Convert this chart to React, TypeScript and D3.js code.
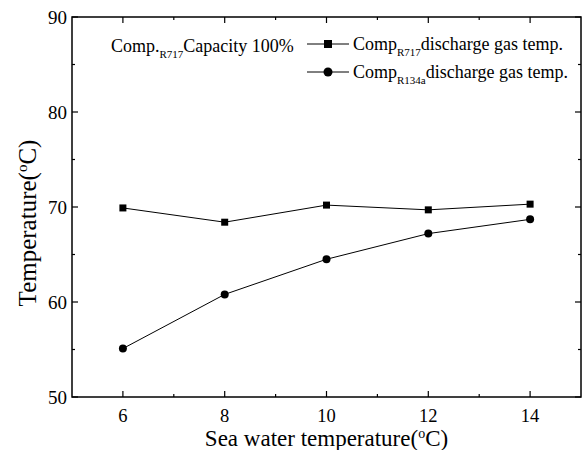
import React from 'react';
import * as d3 from 'd3';

const seaTemps = [6, 8, 10, 12, 14];
const r717Temps = [69.9, 68.4, 70.2, 69.7, 70.3];
const r134aTemps = [55.1, 60.8, 64.5, 67.2, 68.7];

const xMajor = [6, 8, 10, 12, 14];
const xMinor = [7, 9, 11, 13];
const yMajor = [50, 60, 70, 80, 90];
const yMinor = [55, 65, 75, 85];

const W = 584;
const H = 450;
const FONT = "'Liberation Serif', 'DejaVu Serif', serif";

const App = () => {
  const left = 72, right = 581, top = 17, bottom = 397;

  const x = d3.scaleLinear().domain([5, 15]).range([left, right]);
  const y = d3.scaleLinear().domain([50, 90]).range([bottom, top]);

  const line = d3.line<number>()
    .x((d, i) => x(seaTemps[i]))
    .y((d) => y(d));

  const sq = 7; // square marker size
  const rr = 4; // circle radius

  const legendX = 307;
  const legendRows = [
    { y: 44, marker: 'square', sub: 'R717' },
    { y: 72, marker: 'circle', sub: 'R134a' },
  ];

  return (
    <svg width={W} height={H}
      style={{ position: 'absolute', left: 0, top: 0, background: '#fff', fontFamily: FONT }}>
      {/* series */}
      <path d={line(r717Temps) || ''} fill="none" stroke="#000" strokeWidth={1} />
      <path d={line(r134aTemps) || ''} fill="none" stroke="#000" strokeWidth={1} />
      {r717Temps.map((v, i) => (
        <rect key={'s' + i} x={x(seaTemps[i]) - sq / 2} y={y(v) - sq / 2} width={sq} height={sq} fill="#000" />
      ))}
      {r134aTemps.map((v, i) => (
        <circle key={'c' + i} cx={x(seaTemps[i])} cy={y(v)} r={rr} fill="#000" />
      ))}

      {/* frame */}
      <rect x={left} y={top} width={right - left} height={bottom - top} fill="none" stroke="#000" strokeWidth={1.5} />

      {/* x ticks */}
      {xMajor.map((t) => (
        <g key={'xm' + t}>
          <line x1={x(t)} x2={x(t)} y1={bottom} y2={bottom - 6} stroke="#000" strokeWidth={1.2} />
          <line x1={x(t)} x2={x(t)} y1={top} y2={top + 6} stroke="#000" strokeWidth={1.2} />
          <text x={x(t)} y={422} textAnchor="middle" fontSize={18.5}>{t}</text>
        </g>
      ))}
      {xMinor.map((t) => (
        <g key={'xn' + t}>
          <line x1={x(t)} x2={x(t)} y1={bottom} y2={bottom - 3} stroke="#000" strokeWidth={1.2} />
          <line x1={x(t)} x2={x(t)} y1={top} y2={top + 3} stroke="#000" strokeWidth={1.2} />
        </g>
      ))}

      {/* y ticks */}
      {yMajor.map((t) => (
        <g key={'ym' + t}>
          <line x1={left} x2={left + 6} y1={y(t)} y2={y(t)} stroke="#000" strokeWidth={1.2} />
          <line x1={right} x2={right - 6} y1={y(t)} y2={y(t)} stroke="#000" strokeWidth={1.2} />
          <text x={67} y={y(t) + 6.5} textAnchor="end" fontSize={19}>{t}</text>
        </g>
      ))}
      {yMinor.map((t) => (
        <g key={'yn' + t}>
          <line x1={left} x2={left + 3} y1={y(t)} y2={y(t)} stroke="#000" strokeWidth={1.2} />
          <line x1={right} x2={right - 3} y1={y(t)} y2={y(t)} stroke="#000" strokeWidth={1.2} />
        </g>
      ))}

      {/* axis titles */}
      <text x={(left + right) / 2} y={445.5} textAnchor="middle" fontSize={23}>
        Sea water temperature(<tspan fontSize={14} dy={-8}>o</tspan><tspan dy={8}>C)</tspan>
      </text>
      <text transform={`translate(36,223) rotate(-90)`} textAnchor="middle" fontSize={25}>
        Temperature(<tspan fontSize={15} dy={-9}>o</tspan><tspan dy={9}>C)</tspan>
      </text>

      {/* annotation */}
      <text x={111} y={52} fontSize={18}>
        Comp.<tspan fontSize={11} dy={6}>R717</tspan><tspan dy={-6}>Capacity 100%</tspan>
      </text>

      {/* legend */}
      {legendRows.map((r) => (
        <g key={r.sub}>
          <line x1={legendX} x2={legendX + 42} y1={r.y} y2={r.y} stroke="#000" strokeWidth={1} />
          {r.marker === 'square'
            ? <rect x={legendX + 21 - 4} y={r.y - 4} width={8} height={8} fill="#000" />
            : <circle cx={legendX + 21} cy={r.y} r={4.5} fill="#000" />}
          <text x={legendX + 46} y={r.y + 6} fontSize={18}>
            Comp<tspan fontSize={11} dy={6}>{r.sub}</tspan><tspan dy={-6}>discharge gas temp.</tspan>
          </text>
        </g>
      ))}
    </svg>
  );
};

export default App;
